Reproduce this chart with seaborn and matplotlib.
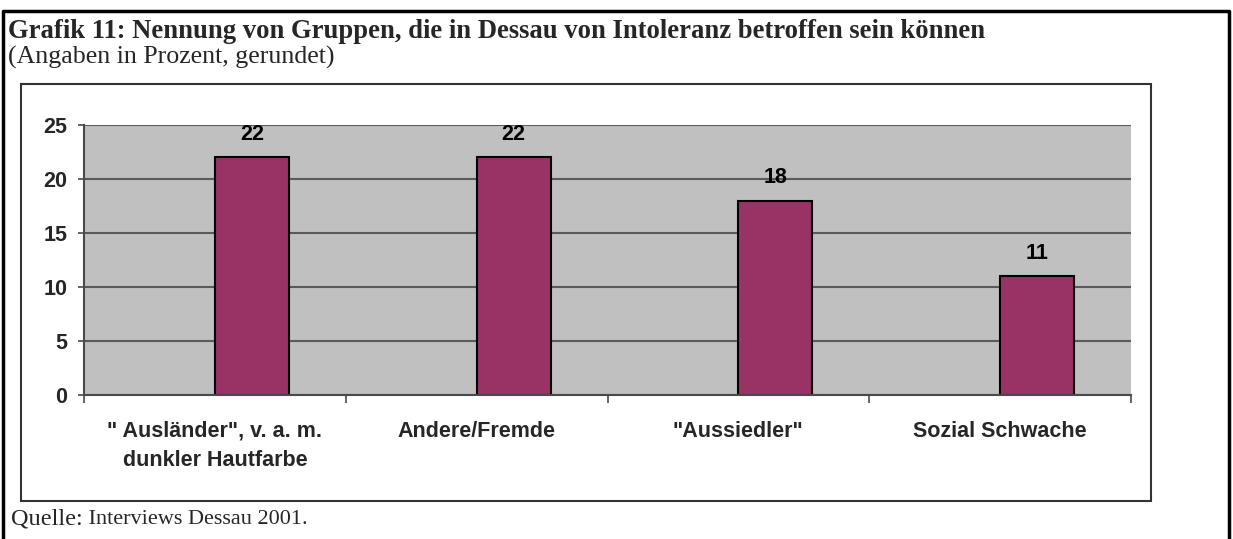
import matplotlib
matplotlib.use("Agg")
import matplotlib.pyplot as plt
import seaborn as sns
import pandas as pd
from matplotlib.lines import Line2D
from matplotlib.patches import Rectangle
from matplotlib.ticker import MultipleLocator

categories = ['" Ausländer", v. a. m.\ndunkler Hautfarbe', 'Andere/Fremde', '"Aussiedler"', 'Sozial Schwache']
values = [22, 22, 18, 11]
empty_values = [0, 0, 0, 0]
series = ["leer", "Prozent"]
title = "Grafik 11: Nennung von Gruppen, die in Dessau von Intoleranz betroffen sein können"
subtitle = "(Angaben in Prozent, gerundet)"
source_a = "Quelle:"
source_b = " Interviews Dessau 2001."

df = pd.DataFrame({
    "Gruppe": categories * 2,
    "Wert": empty_values + values,
    "Serie": [series[0]] * 4 + [series[1]] * 4,
})

sns.set_theme(style="white")
plt.rcParams['font.family'] = ['Liberation Sans', 'DejaVu Sans']

W, H = 1233, 539
fig = plt.figure(figsize=(W / 100, H / 100), dpi=100)
fig.patch.set_facecolor("white")

def fx(px):
    return px / W

def fy(py):
    return 1 - py / H

ax = fig.add_axes([fx(84), fy(395), fx(1131) - fx(84), fy(125) - fy(395)])
sns.barplot(data=df, x="Gruppe", y="Wert", hue="Serie", hue_order=series,
            order=categories, palette={"leer": "#993366", "Prozent": "#993366"},
            width=0.566, edgecolor="black", linewidth=1.5, saturation=1,
            legend=False, ax=ax, errorbar=None)

for bar in ax.containers[0]:
    bar.set_visible(False)

ax.bar_label(ax.containers[1], labels=[str(v) for v in values], padding=9,
             fontsize=15.5, fontweight="bold", color="black")

ax.set_facecolor("#C0C0C0")
ax.set_xlim(-0.5, 3.5)
ax.set_ylim(0, 25)
ax.yaxis.set_major_locator(MultipleLocator(5))
ax.set_xlabel("")
ax.set_ylabel("")
ax.grid(axis="y", color="#5a5a5a", linewidth=1.5)
ax.set_axisbelow(True)
for s in ["top", "right"]:
    ax.spines[s].set_visible(False)
for s in ["left", "bottom"]:
    ax.spines[s].set_color("#4a4a4a")
    ax.spines[s].set_linewidth(1.5)

ax.tick_params(axis="y", which="major", length=4, width=1.2, color="#4a4a4a",
               labelsize=15.5, pad=8, left=True)
ax.set_xticks(range(len(categories)))
ax.set_xticklabels(categories, fontweight="bold", fontsize=15.5, linespacing=1.5)
ax.tick_params(axis="x", which="major", length=0, pad=18.5, bottom=True)
ax.set_xticks([-0.5, 0.5, 1.5, 2.5, 3.5], minor=True)
ax.tick_params(axis="x", which="minor", length=6, width=1.2, color="#4a4a4a", bottom=True)
for lab in ax.get_yticklabels():
    lab.set_fontweight("bold")
for lab in ax.get_xticklabels():
    lab.set_verticalalignment("top")

# Inner chart frame
fig.add_artist(Rectangle((fx(21), fy(501)), fx(1151) - fx(21), fy(84) - fy(501),
                         transform=fig.transFigure, fill=False,
                         edgecolor="#333333", linewidth=1.5))
# Outer frame (left, top, right)
fig.add_artist(Line2D([fx(3), fx(3), fx(1229), fx(1229)], [0, fy(11), fy(11), 0],
                      transform=fig.transFigure, color="black", linewidth=2.5))

fig.text(fx(8), fy(31), title, fontsize=19.2, fontweight="bold",
         family=["Liberation Serif", "DejaVu Serif"], va="center", ha="left")
fig.text(fx(8), fy(57), subtitle, fontsize=18.6,
         family=["Liberation Serif", "DejaVu Serif"], va="center", ha="left")
t = fig.text(fx(11), fy(519), source_a, fontsize=17.5,
             family=["Liberation Serif", "DejaVu Serif"], va="center", ha="left")
fig.canvas.draw()
bb = t.get_window_extent()
fig.text(bb.x1 / W, fy(519), source_b, fontsize=16,
         family=["Liberation Serif", "DejaVu Serif"], va="center", ha="left")

fig.savefig("out.png", dpi=100)
